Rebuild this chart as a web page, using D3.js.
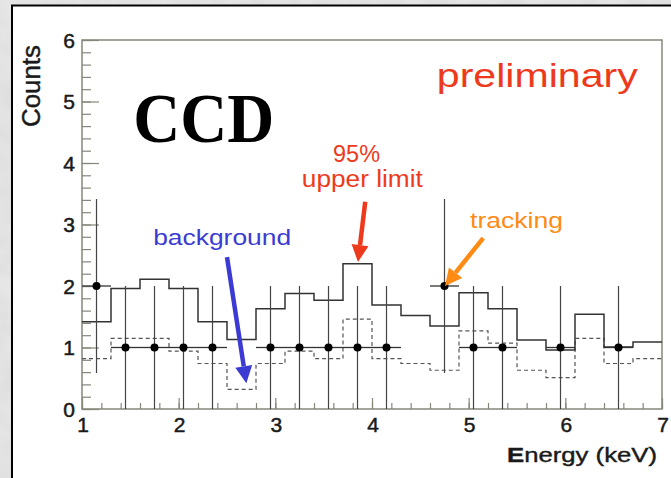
<!DOCTYPE html>
<html>
<head>
<meta charset="utf-8">
<script src="https://cdn.jsdelivr.net/npm/d3@7/dist/d3.min.js"></script>
<style>
  html, body { margin: 0; padding: 0; background: #d9d9d9; }
  svg { display: block; }
</style>
</head>
<body>
<div id="chart"></div>
<script>
// bins are 0.3 keV wide, lower edges
var binLo = [1.0, 1.3, 1.6, 1.9, 2.2, 2.5, 2.8, 3.1, 3.4, 3.7, 4.0, 4.3, 4.6, 4.9, 5.2, 5.5, 5.8, 6.1, 6.4, 6.7];
var upperLimit = [1.42, 1.96, 2.11, 1.96, 1.42, 1.13, 1.63, 1.88, 1.77, 2.36, 1.69, 1.52, 1.35, 1.89, 1.63, 1.12, 0.96, 1.54, 1.01, 1.09];
var background = [0.82, 1.15, 1.15, 0.94, 0.74, 0.32, 0.74, 0.94, 0.82, 1.46, 0.82, 0.74, 0.63, 1.27, 1.07, 0.63, 0.51, 1.15, 0.74, 0.82];
var tracking = [2, 1, 1, 1, 1, 0, 1, 1, 1, 1, 1, 0, 2, 1, 1, 0, 1, 0, 1, 0];
var binWidth = 0.3;

var xTicks = [1, 2, 3, 4, 5, 6, 7];
var yTicks = [0, 1, 2, 3, 4, 5, 6];

// annotations in data coordinates
var labels = [
    {text: "preliminary", x: 5.71, y: 5.24, size: 33, len: 201, color: "#ee3a1c", font: "Liberation Sans, Arial, sans-serif", weight: "normal"},
    {text: "CCD", x: 2.26, y: 4.34, size: 70, len: 141, color: "#000", font: "Liberation Serif, Times New Roman, serif", weight: "bold"},
    {text: "95%", x: 3.84, y: 4.02, size: 23, len: 47, color: "#ee3a1c", font: "Liberation Sans, Arial, sans-serif", weight: "normal"},
    {text: "upper limit", x: 3.90, y: 3.61, size: 23, len: 121, color: "#ee3a1c", font: "Liberation Sans, Arial, sans-serif", weight: "normal"},
    {text: "background", x: 2.45, y: 2.67, size: 22, len: 138, color: "#3b3bd4", font: "Liberation Sans, Arial, sans-serif", weight: "normal"},
    {text: "tracking", x: 5.495, y: 2.94, size: 22, len: 93, color: "#ff8a14", font: "Liberation Sans, Arial, sans-serif", weight: "normal"}
];
var arrows = [
    {x1: 2.50, y1: 2.47, x2: 2.70, y2: 0.42, color: "#3b3bd4"},
    {x1: 3.93, y1: 3.37, x2: 3.855, y2: 2.39, color: "#ee3a1c"},
    {x1: 5.15, y1: 2.78, x2: 4.755, y2: 2.0, color: "#ff8a14"}
];

var width = 671, height = 478;
var sans = "Liberation Sans, Arial, sans-serif";

var svg = d3.select("#chart")
    .append("svg")
    .attr("width", width)
    .attr("height", height);

// marbled grey backdrop
var defs = svg.append("defs");
var filt = defs.append("filter").attr("id", "marble");
filt.append("feTurbulence")
    .attr("type", "fractalNoise")
    .attr("baseFrequency", 0.04)
    .attr("numOctaves", 3)
    .attr("seed", 4);
filt.append("feColorMatrix")
    .attr("type", "matrix")
    .attr("values", "0 0 0 0 0.8  0 0 0 0 0.8  0 0 0 0 0.8  0 0 0 -1.5 1.2");

svg.append("rect")
    .attr("width", width).attr("height", height)
    .attr("fill", "#dedede");
svg.append("rect")
    .attr("width", width).attr("height", height)
    .attr("filter", "url(#marble)");

svg.append("rect")
    .attr("x", 12).attr("y", 5.5)
    .attr("width", 680).attr("height", 490)
    .attr("fill", "#fff")
    .attr("stroke", "#000")
    .attr("stroke-width", 2);

var x = d3.scaleLinear().domain([1, 7]).range([82, 662]);
var y = d3.scaleLinear().domain([0, 6]).range([409, 40]);

var frameColor = "#86867a";

// frame
svg.append("rect")
    .attr("x", x(1)).attr("y", y(6))
    .attr("width", x(7) - x(1)).attr("height", y(0) - y(6))
    .attr("fill", "none")
    .attr("stroke", frameColor)
    .attr("stroke-width", 1.5);

// y axis: major + minor ticks pointing into the frame
var yMinor = d3.range(0, 6.001, 0.2);
svg.append("g")
    .attr("transform", "translate(" + x(1) + ",0)")
    .call(d3.axisRight(y).tickValues(yMinor).tickSize(9).tickFormat(""))
    .call(function(g) { g.select(".domain").remove(); })
    .selectAll("line").attr("stroke", frameColor).attr("stroke-width", 1.2);

svg.append("g")
    .attr("transform", "translate(" + x(1) + ",0)")
    .call(d3.axisRight(y).tickValues(yTicks).tickSize(17).tickFormat(""))
    .call(function(g) { g.select(".domain").remove(); })
    .selectAll("line").attr("stroke", frameColor).attr("stroke-width", 1.2);

svg.append("g")
    .selectAll("text")
    .data(yTicks)
    .enter()
    .append("text")
    .attr("x", 75)
    .attr("y", function(d) { return y(d); })
    .attr("dy", "0.36em")
    .attr("text-anchor", "end")
    .attr("font-family", sans)
    .attr("font-size", 21)
    .attr("fill", "#1a1a1a")
    .attr("stroke", "#1a1a1a")
    .attr("stroke-width", 0.5)
    .text(function(d) { return d; });

// x axis
var xMinor = d3.range(1, 7.001, 0.2);
svg.append("g")
    .attr("transform", "translate(0," + y(0) + ")")
    .call(d3.axisTop(x).tickValues(xMinor).tickSize(6).tickFormat(""))
    .call(function(g) { g.select(".domain").remove(); })
    .selectAll("line").attr("stroke", frameColor).attr("stroke-width", 1.2);

svg.append("g")
    .attr("transform", "translate(0," + y(0) + ")")
    .call(d3.axisTop(x).tickValues(xTicks).tickSize(11).tickFormat(""))
    .call(function(g) { g.select(".domain").remove(); })
    .selectAll("line").attr("stroke", frameColor).attr("stroke-width", 1.2);

svg.append("g")
    .selectAll("text")
    .data(xTicks)
    .enter()
    .append("text")
    .attr("x", function(d) { return x(d) + 1; })
    .attr("y", 432)
    .attr("text-anchor", "middle")
    .attr("font-family", sans)
    .attr("font-size", 21)
    .attr("fill", "#1a1a1a")
    .attr("stroke", "#1a1a1a")
    .attr("stroke-width", 0.5)
    .text(function(d) { return d; });

// axis titles
var xt = svg.append("text")
    .attr("x", 657).attr("y", 462)
    .attr("text-anchor", "end")
    .attr("font-family", sans)
    .attr("font-size", 21)
    .attr("fill", "#1a1a1a")
    .attr("stroke", "#1a1a1a")
    .attr("stroke-width", 0.4)
    .attr("textLength", 150)
    .attr("lengthAdjust", "spacingAndGlyphs");
xt.append("tspan").attr("font-weight", "bold").text("E");
xt.append("tspan").text("nergy (keV)");

svg.append("text")
    .attr("transform", "translate(40,45) rotate(-90)")
    .attr("text-anchor", "end")
    .attr("font-family", sans)
    .attr("font-size", 25)
    .attr("fill", "#1a1a1a")
    .attr("stroke", "#1a1a1a")
    .attr("stroke-width", 0.4)
    .attr("textLength", 82)
    .attr("lengthAdjust", "spacingAndGlyphs")
    .text("Counts");

// histograms
function stepPoints(vals) {
    var pts = binLo.map(function(lo, i) { return [lo, vals[i]]; });
    pts.push([binLo[binLo.length - 1] + binWidth, vals[vals.length - 1]]);
    return pts;
}
var step = d3.line()
    .x(function(d) { return x(d[0]); })
    .y(function(d) { return y(d[1]); })
    .curve(d3.curveStepAfter);

svg.append("path")
    .attr("d", step(stepPoints(background)))
    .attr("fill", "none")
    .attr("stroke", "#555")
    .attr("stroke-width", 1.2)
    .attr("stroke-dasharray", "4,3");

svg.append("path")
    .attr("d", step(stepPoints(upperLimit)))
    .attr("fill", "none")
    .attr("stroke", "#333")
    .attr("stroke-width", 1.5);

// tracking data with poisson errors
var pts = binLo.map(function(lo, i) {
    return {x: lo + binWidth / 2, n: tracking[i]};
}).filter(function(d) { return d.n > 0; });

var marks = svg.append("g");
marks.selectAll(".ex")
    .data(pts).enter()
    .append("line")
    .attr("class", "ex")
    .attr("x1", function(d) { return x(d.x - binWidth / 2); })
    .attr("x2", function(d) { return x(d.x + binWidth / 2); })
    .attr("y1", function(d) { return y(d.n); })
    .attr("y2", function(d) { return y(d.n); })
    .attr("stroke", "#333")
    .attr("stroke-width", 1.3);

marks.selectAll(".ey")
    .data(pts).enter()
    .append("line")
    .attr("class", "ey")
    .attr("x1", function(d) { return x(d.x); })
    .attr("x2", function(d) { return x(d.x); })
    .attr("y1", function(d) { return y(Math.max(0, d.n - Math.sqrt(d.n))); })
    .attr("y2", function(d) { return y(d.n + Math.sqrt(d.n)); })
    .attr("stroke", "#444")
    .attr("stroke-width", 1.2);

marks.selectAll("circle")
    .data(pts).enter()
    .append("circle")
    .attr("cx", function(d) { return x(d.x); })
    .attr("cy", function(d) { return y(d.n); })
    .attr("r", 4)
    .attr("fill", "#000");

// arrows
arrows.forEach(function(a) {
    var x1 = x(a.x1), y1 = y(a.y1), x2 = x(a.x2), y2 = y(a.y2);
    var ang = Math.atan2(y2 - y1, x2 - x1);
    var headLen = 17, headW = 8.5;
    var bx = x2 - headLen * Math.cos(ang), by = y2 - headLen * Math.sin(ang);
    svg.append("line")
        .attr("x1", x1).attr("y1", y1)
        .attr("x2", bx).attr("y2", by)
        .attr("stroke", a.color)
        .attr("stroke-width", 4.5);
    var px = -Math.sin(ang), py = Math.cos(ang);
    svg.append("polygon")
        .attr("points", [
            [x2, y2],
            [bx + px * headW, by + py * headW],
            [bx - px * headW, by - py * headW]
        ].map(function(p) { return p.join(","); }).join(" "))
        .attr("fill", a.color);
});

// labels
svg.append("g")
    .selectAll("text")
    .data(labels)
    .enter()
    .append("text")
    .attr("x", function(d) { return x(d.x); })
    .attr("y", function(d) { return y(d.y); })
    .attr("text-anchor", "middle")
    .attr("font-family", function(d) { return d.font; })
    .attr("font-weight", function(d) { return d.weight; })
    .attr("font-size", function(d) { return d.size; })
    .attr("fill", function(d) { return d.color; })
    .attr("textLength", function(d) { return d.len; })
    .attr("lengthAdjust", "spacingAndGlyphs")
    .text(function(d) { return d.text; });
</script>
</body>
</html>
